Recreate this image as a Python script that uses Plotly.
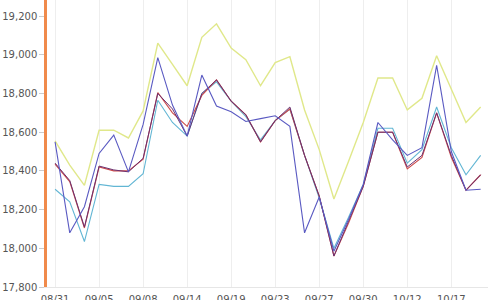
import plotly.graph_objects as go

dates = ["08/31", "09/01", "09/04", "09/05", "09/06", "09/07", "09/08", "09/11", "09/12",
         "09/14", "09/15", "09/18", "09/19", "09/20", "09/21", "09/23", "09/25", "09/26",
         "09/27", "09/28", "09/29", "09/30", "10/10", "10/11", "10/12", "10/13", "10/16",
         "10/17", "10/18", "10/19"]

yellow = [18555, 18430, 18325, 18610, 18610, 18570, 18710, 19060, 18950, 18840,
          19090, 19160, 19035, 18975, 18840, 18960, 18990, 18715, 18510, 18255,
          18450, 18650, 18880, 18880, 18715, 18775, 18995, 18820, 18650, 18730]
blue = [18550, 18080, 18215, 18490, 18585, 18395, 18640, 18985, 18740, 18580,
        18895, 18735, 18705, 18655, 18670, 18685, 18630, 18080, 18265, 17985,
        18150, 18330, 18650, 18560, 18480, 18520, 18945, 18500, 18300, 18305]
red = [18435, 18345, 18105, 18420, 18400, 18400, 18460, 18805, 18700, 18630,
       18790, 18870, 18760, 18690, 18550, 18660, 18720, 18480, 18270, 17960,
       18130, 18320, 18600, 18600, 18410, 18470, 18700, 18470, 18300, 18380]
teal = [18305, 18240, 18035, 18330, 18320, 18320, 18385, 18765, 18650, 18580,
        18800, 18860, 18760, 18680, 18560, 18660, 18720, 18480, 18260, 18000,
        18160, 18330, 18620, 18620, 18440, 18510, 18730, 18520, 18380, 18480]
dark = [18440, 18350, 18110, 18425, 18405, 18395, 18465, 18800, 18720, 18580,
        18800, 18870, 18760, 18690, 18550, 18660, 18730, 18480, 18270, 17960,
        18140, 18320, 18600, 18600, 18420, 18480, 18700, 18480, 18300, 18380]

series = [
    (yellow, "#e0e88a", 1.4),
    (teal, "#62b6d4", 1.1),
    (red, "#cc4a4a", 1.1),
    (dark, "#6a3070", 1.0),
    (blue, "#5a5ac2", 1.1),
]

fig = go.Figure()
for vals, color, w in series:
    fig.add_trace(go.Scatter(x=dates, y=vals, mode="lines",
                             line=dict(color=color, width=w), showlegend=False))

tick_idx = list(range(0, 30, 3))
fig.update_layout(
    width=500, height=300,
    margin=dict(l=47, r=12, t=0, b=13),
    paper_bgcolor="white", plot_bgcolor="white",
    font=dict(family="DejaVu Sans", size=10, color="#555"),
    xaxis=dict(type="category", range=[-0.55, 29.5],
               tickvals=[dates[i] for i in tick_idx],
               showgrid=True, gridcolor="#eeeeee", gridwidth=1,
               showline=True, linecolor="#e6e6e6", linewidth=1,
               ticks="outside", ticklen=3, tickcolor="rgba(0,0,0,0)",
               automargin=False, tickfont=dict(size=10, color="#555")),
    yaxis=dict(range=[17800, 19283], tickvals=[17800, 18000, 18200, 18400, 18600, 18800, 19000, 19200],
               tickformat=",d", showgrid=False, zeroline=False,
               showline=True, linecolor="#f08a4b", linewidth=2.5,
               ticks="outside", ticklen=5, tickcolor="#ccc",
               automargin=False, tickfont=dict(size=10, color="#555")),
)
fig.write_html("out.html")
